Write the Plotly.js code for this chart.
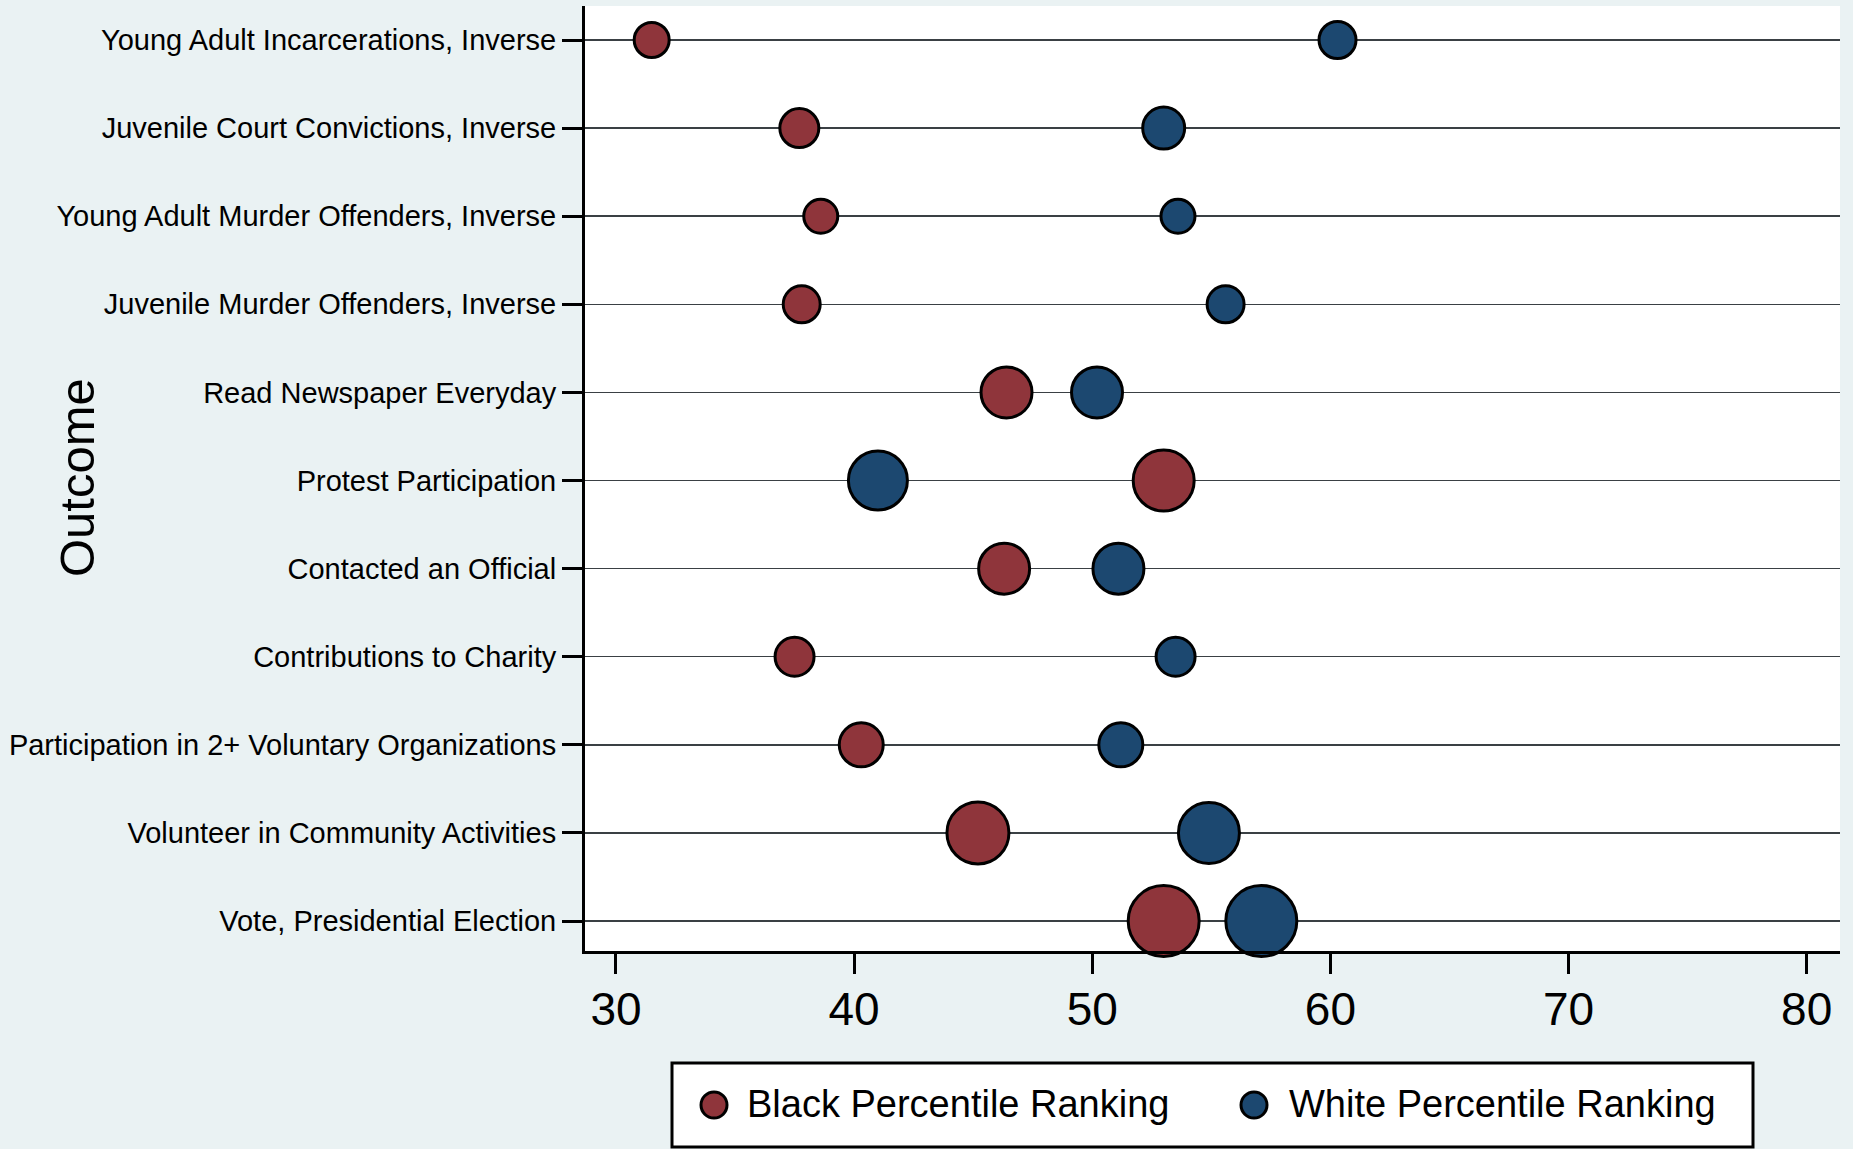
<!DOCTYPE html>
<html>
<head>
<meta charset="utf-8">
<script src="https://cdn.plot.ly/plotly-3.0.1.min.js"></script>
<style>
  html, body { margin: 0; padding: 0; background: #EAF2F3; }
  #chart { width: 1853px; height: 1149px; }
</style>
</head>
<body>
<div id="chart"></div>
<script>
// Outcomes, listed top to bottom as in the chart
const outcomes = [
  "Young Adult Incarcerations, Inverse",
  "Juvenile Court Convictions, Inverse",
  "Young Adult Murder Offenders, Inverse",
  "Juvenile Murder Offenders, Inverse",
  "Read Newspaper Everyday",
  "Protest Participation",
  "Contacted an Official",
  "Contributions to Charity",
  "Participation in 2+ Voluntary Organizations",
  "Volunteer in Community Activities",
  "Vote, Presidential Election"
];

// Percentile rankings
const blackPercentile = [31.5, 37.7, 38.6, 37.8, 46.4, 53.0, 46.3, 37.5, 40.3, 45.2, 53.0];
const whitePercentile = [60.3, 53.0, 53.6, 55.6, 50.2, 41.0, 51.1, 53.5, 51.2, 54.9, 57.1];

// Bubble weights (relative)
const blackWeight = [35, 39, 34, 37, 51, 61, 51, 39, 44, 62, 71];
const whiteWeight = [37, 42, 34, 37, 51, 59, 51, 39, 44, 61, 71];

const seriesNames = ["Black Percentile Ranking", "White Percentile Ranking"];
const xTicks = [30, 40, 50, 60, 70, 80];
const yTitle = "Outcome";

const RED = "#8F353B";
const BLUE = "#1C4870";
const FONT = "Liberation Sans, Arial, Helvetica, sans-serif";

const traces = [
  {
    type: "scatter", mode: "markers", name: seriesNames[0],
    x: blackPercentile, y: outcomes,
    cliponaxis: false,
    marker: { color: RED, opacity: 1, size: blackWeight, sizemode: "diameter", sizeref: 1,
              line: { color: "#000000", width: 3 } },
    showlegend: false, hoverinfo: "x+y+name"
  },
  {
    type: "scatter", mode: "markers", name: seriesNames[1],
    x: whitePercentile, y: outcomes,
    cliponaxis: false,
    marker: { color: BLUE, opacity: 1, size: whiteWeight, sizemode: "diameter", sizeref: 1,
              line: { color: "#000000", width: 3 } },
    showlegend: false, hoverinfo: "x+y+name"
  }
];

const catOrder = outcomes.slice().reverse();

// plot area in px
const L = 585, R = 1840, T = 6, B = 951;
const px = v => (v - L) / (R - L);
const py = v => (B - v) / (B - T);

const shapes = [
  { type: "rect", xref: "paper", yref: "paper",
    x0: px(672), x1: px(1753), y0: py(1147), y1: py(1063),
    fillcolor: "#FFFFFF", line: { color: "#000000", width: 3 }, layer: "above" },
  { type: "circle", xref: "paper", yref: "paper", xsizemode: "pixel", ysizemode: "pixel",
    xanchor: px(714), yanchor: py(1105), x0: -13, x1: 13, y0: -13, y1: 13,
    fillcolor: RED, line: { color: "#000000", width: 3 }, layer: "above" },
  { type: "circle", xref: "paper", yref: "paper", xsizemode: "pixel", ysizemode: "pixel",
    xanchor: px(1254), yanchor: py(1105), x0: -13, x1: 13, y0: -13, y1: 13,
    fillcolor: BLUE, line: { color: "#000000", width: 3 }, layer: "above" }
];

const annotations = [
  { xref: "paper", yref: "paper", x: px(745), y: py(1104), xanchor: "left", yanchor: "middle",
    text: seriesNames[0], showarrow: false, font: { family: FONT, size: 38, color: "#000" } },
  { xref: "paper", yref: "paper", x: px(1287), y: py(1104), xanchor: "left", yanchor: "middle",
    text: seriesNames[1], showarrow: false, font: { family: FONT, size: 38, color: "#000" } },
  { xref: "paper", yref: "paper", x: px(77), y: py(478), xanchor: "center", yanchor: "middle",
    text: yTitle, textangle: -90, showarrow: false, font: { family: FONT, size: 49, color: "#000" } }
];

const layout = {
  width: 1853, height: 1149,
  margin: { l: L, r: 1853 - R, t: T, b: 1149 - B, pad: 0 },
  paper_bgcolor: "#EAF2F3",
  plot_bgcolor: "#FFFFFF",
  font: { family: FONT, color: "#000000" },
  showlegend: false,
  xaxis: {
    range: [28.7, 81.4], tickvals: xTicks, ticktext: xTicks.map(String),
    ticks: "outside", ticklen: 20, tickwidth: 3, tickcolor: "#000",
    showline: true, linecolor: "#000", linewidth: 3,
    showgrid: false, zeroline: false,
    ticklabelstandoff: -4,
    tickfont: { family: FONT, size: 46, color: "#000" }
  },
  yaxis: {
    type: "category", categoryorder: "array", categoryarray: catOrder,
    range: [-0.34, 10.386],
    ticks: "outside", ticklen: 20, tickwidth: 3, tickcolor: "#000",
    showline: true, linecolor: "#000", linewidth: 3,
    showgrid: true, gridcolor: "#3a4044", gridwidth: 1.5,
    zeroline: false,
    tickfont: { family: FONT, size: 29, color: "#000" }
  },
  shapes: shapes,
  annotations: annotations
};

Plotly.newPlot("chart", traces, layout, { displayModeBar: false, staticPlot: true });
</script>
</body>
</html>
